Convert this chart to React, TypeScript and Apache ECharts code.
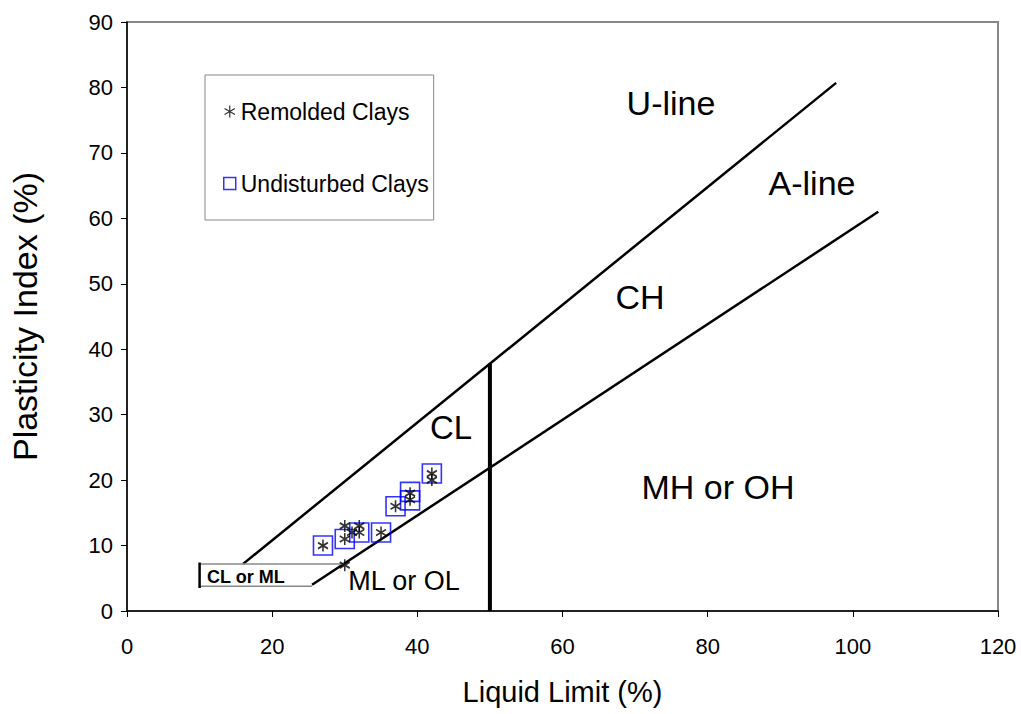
import React, { useEffect, useRef } from "react";
import * as echarts from "echarts";

const FONT = "'Liberation Sans', Arial, sans-serif";

// Remolded clays (LL, PI)
const remolded: number[][] = [
  [27, 10], [30, 13], [30, 11], [31, 12], [32, 13], [32, 12], [35, 12],
  [37, 16], [39, 18], [39, 17], [42, 21], [42, 20], [30, 7],
];
// Undisturbed clays (LL, PI)
const undisturbed: number[][] = [
  [27, 10], [30, 11], [32, 12], [35, 12], [37, 16], [39, 18.2], [39, 16.9], [42, 21],
];
// Reference lines
const uLine: number[][] = [[16, 7.2], [97.7, 80.7]];
const aLine: number[][] = [[25.5, 4], [103.5, 61]];
const ll50Line: number[][] = [[50, 0], [50, 37.8]];
const clmlTop: number[][] = [[10, 7.2], [30, 7.2]];
const clmlBottom: number[][] = [[10, 3.8], [25.5, 3.8]];
const clmlLeft: number[][] = [[10, 3.5], [10, 7.4]];

const xTicks = { min: 0, max: 120, interval: 20 };
const yTicks = { min: 0, max: 90, interval: 10 };

const ASTERISK = "path://M5,0 L5,10 M0.7,2.5 L9.3,7.5 M0.7,7.5 L9.3,2.5";

export default function App() {
  const ref = useRef<HTMLDivElement>(null);
  useEffect(() => {
    if (!ref.current) return;
    const chart = echarts.init(ref.current, null, { renderer: "svg" });
    const lineSeries = (data: number[][], color: string, width: number, z = 2) => ({
      type: "line",
      data,
      showSymbol: false,
      symbol: "none",
      silent: true,
      z,
      lineStyle: { color, width },
    });
    const txt = (text: string, x: number, y: number, size: number, bold = false, align = "center") => ({
      type: "text",
      x,
      y,
      silent: true,
      style: {
        text,
        fill: "#000",
        font: `${bold ? "bold " : ""}${size}px ${FONT}`,
        align,
        verticalAlign: "middle",
      },
    });
    chart.setOption({
      animation: false,
      backgroundColor: "#fff",
      textStyle: { fontFamily: FONT },
      grid: {
        left: 126,
        top: 22,
        width: 872,
        height: 589,
        show: true,
        borderColor: "#888",
        borderWidth: 2,
        backgroundColor: "transparent",
      },
      xAxis: {
        type: "value",
        ...xTicks,
        name: "Liquid Limit (%)",
        nameLocation: "middle",
        nameGap: 66,
        nameTextStyle: { fontSize: 29, color: "#000", fontFamily: FONT },
        axisLine: { lineStyle: { color: "#000", width: 1.5 } },
        axisTick: { show: true, inside: false, length: 6, lineStyle: { color: "#000" } },
        axisLabel: { fontSize: 22, color: "#000", margin: 24, fontFamily: FONT },
        splitLine: { show: false },
      },
      yAxis: {
        type: "value",
        ...yTicks,
        name: "Plasticity Index (%)",
        nameLocation: "middle",
        nameGap: 85,
        nameRotate: 90,
        nameTextStyle: { fontSize: 34, color: "#000", fontFamily: FONT },
        axisLine: { lineStyle: { color: "#000", width: 1.5 } },
        axisTick: { show: true, inside: false, length: 6, lineStyle: { color: "#000" } },
        axisLabel: { fontSize: 22, color: "#000", margin: 14, fontFamily: FONT },
        splitLine: { show: false },
      },
      legend: {
        orient: "vertical",
        left: 205,
        top: 75,
        padding: [25, 5, 25, 18],
        itemGap: 49,
        itemWidth: 12,
        itemHeight: 12,
        borderColor: "#888",
        borderWidth: 1,
        backgroundColor: "#fff",
        textStyle: { fontSize: 23, color: "#000", fontFamily: FONT },
        data: [
          {
            name: "Remolded Clays",
            icon: ASTERISK,
            itemStyle: { color: "rgba(0,0,0,0)", borderColor: "#000", borderWidth: 1.2 },
          },
          {
            name: "Undisturbed Clays",
            icon: "rect",
            itemStyle: { color: "rgba(0,0,0,0)", borderColor: "#0000ff", borderWidth: 1.5 },
          },
        ],
      },
      series: [
        lineSeries(uLine, "#000", 2.5),
        lineSeries(aLine, "#000", 2.5),
        lineSeries(ll50Line, "#000", 4),
        lineSeries(clmlTop, "#888", 1.5),
        lineSeries(clmlBottom, "#888", 1.5),
        lineSeries(clmlLeft, "#000", 2.5),
        {
          type: "scatter",
          name: "Undisturbed Clays",
          data: undisturbed,
          symbol: "rect",
          symbolSize: 19,
          z: 3,
          itemStyle: { color: "rgba(0,0,0,0)", borderColor: "#0000ff", borderWidth: 1.6 },
        },
        {
          type: "scatter",
          name: "Remolded Clays",
          data: remolded,
          symbol: ASTERISK,
          symbolSize: [10, 12],
          z: 4,
          itemStyle: { color: "rgba(0,0,0,0)", borderColor: "#000", borderWidth: 1.7 },
        },
      ],
      graphic: [
        txt("U-line", 671, 103, 34),
        txt("A-line", 812, 183, 34),
        txt("CH", 640, 297, 34),
        txt("CL", 451, 427, 33),
        txt("MH or OH", 718, 487, 34),
        txt("ML or OL", 404, 581, 27),
        txt("CL or ML", 207, 577, 18, true, "left"),
      ],
    });
    return () => chart.dispose();
  }, []);
  return (
    <div
      ref={ref}
      style={{ position: "fixed", left: 0, top: 0, width: 1021, height: 714 }}
    />
  );
}
